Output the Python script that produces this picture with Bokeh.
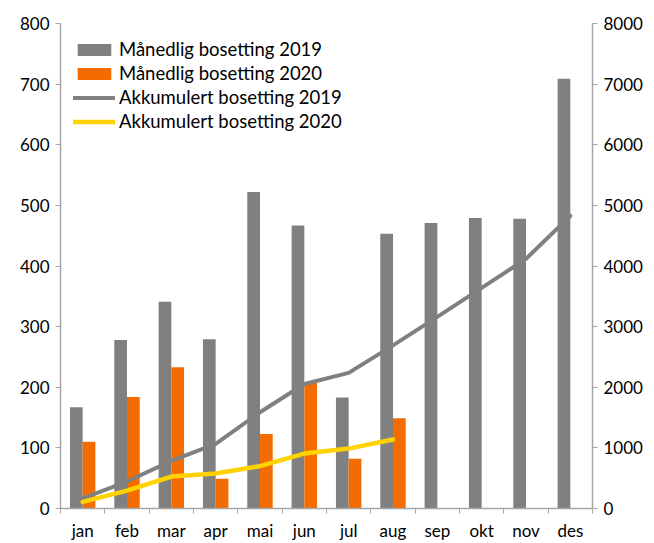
import numpy as np
from bokeh.plotting import figure
from bokeh.models import (Range1d, LinearAxis, FixedTicker, Legend, LegendItem,
                          ColumnDataSource)
from bokeh.embed import file_html
from bokeh.resources import INLINE

months = ["jan", "feb", "mar", "apr", "mai", "jun", "jul", "aug", "sep", "okt", "nov", "des"]
bosatt_2019 = [167, 278, 341, 279, 522, 467, 183, 453, 471, 479, 478, 709]
bosatt_2020 = [110, 184, 233, 49, 123, 207, 82, 149]
akk_2019 = [167, 445, 786, 1065, 1587, 2054, 2237, 2690, 3161, 3640, 4118, 4827]
akk_2020 = [110, 294, 527, 576, 699, 906, 988, 1137]
left_ticks = [0, 100, 200, 300, 400, 500, 600, 700, 800]
right_ticks = [0, 1000, 2000, 3000, 4000, 5000, 6000, 7000, 8000]

FONT = "Lato"
GREY = "#808080"
ORANGE = "#F46C00"
YELLOW = "#FFD200"
AXIS = "#A6A6A6"

n = len(months)
centers = np.arange(n) + 0.5
bw = 0.287

p = figure(width=654, height=543, output_backend="svg", toolbar_location=None,
           x_range=Range1d(0, n), y_range=Range1d(0, 800),
           min_border_left=60, min_border_right=62, min_border_top=23, min_border_bottom=35)
p.outline_line_color = None
p.xgrid.visible = False
p.ygrid.visible = False
p.extra_y_ranges = {"right": Range1d(0, 8000)}

s19 = ColumnDataSource(dict(x=centers - bw / 2, top=bosatt_2019))
s20 = ColumnDataSource(dict(x=centers[:len(bosatt_2020)] + bw / 2, top=bosatt_2020))
b19 = p.vbar(x="x", top="top", width=bw, source=s19, fill_color=GREY, line_color=None)
b20 = p.vbar(x="x", top="top", width=bw, source=s20, fill_color=ORANGE, line_color=None)

l19 = p.line(centers, akk_2019, y_range_name="right", line_color=GREY, line_width=4,
             line_cap="round", line_join="round")
l20 = p.line(centers[:len(akk_2020)], akk_2020, y_range_name="right", line_color=YELLOW,
             line_width=4.5, line_cap="round", line_join="round")

# x axis: labels at centers, tick marks at boundaries (minor ticks)
xa = p.xaxis[0]
xa.ticker = FixedTicker(ticks=list(centers), minor_ticks=list(range(n + 1)))
xa.major_label_overrides = {float(c): m for c, m in zip(centers, months)}
xa.major_tick_out = 0
xa.major_tick_in = 0
xa.minor_tick_out = 5
xa.minor_tick_in = 0
xa.minor_tick_line_color = AXIS
xa.axis_line_color = AXIS
xa.axis_line_width = 1.5
xa.major_label_standoff = 6
xa.major_label_text_font = FONT
xa.major_label_text_font_size = "17px"
xa.major_label_text_color = "black"

ya = p.yaxis[0]
ya.ticker = FixedTicker(ticks=left_ticks)
ya.major_tick_out = 5
ya.major_tick_in = 0
ya.minor_tick_out = 0
ya.minor_tick_in = 0
ya.axis_line_color = AXIS
ya.axis_line_width = 1.5
ya.major_tick_line_color = AXIS
ya.major_label_standoff = 6
ya.major_label_text_font = FONT
ya.major_label_text_font_size = "17px"
ya.major_label_text_color = "black"

ra = LinearAxis(y_range_name="right", ticker=FixedTicker(ticks=right_ticks))
ra.major_tick_out = 5
ra.major_tick_in = 0
ra.minor_tick_out = 0
ra.minor_tick_in = 0
ra.axis_line_color = AXIS
ra.axis_line_width = 1.5
ra.major_tick_line_color = AXIS
ra.major_label_standoff = 6
ra.major_label_text_font = FONT
ra.major_label_text_font_size = "17px"
ra.major_label_text_color = "black"
p.add_layout(ra, "right")

legend = Legend(items=[
    LegendItem(label="Månedlig bosetting 2019", renderers=[b19]),
    LegendItem(label="Månedlig bosetting 2020", renderers=[b20]),
    LegendItem(label="Akkumulert bosetting 2019", renderers=[l19]),
    LegendItem(label="Akkumulert bosetting 2020", renderers=[l20]),
], location=(13, 376))
legend.margin = 0
legend.padding = 0
legend.spacing = 2
legend.glyph_width = 42
legend.glyph_height = 15
legend.label_height = 20
legend.label_standoff = 4
legend.label_text_font = FONT
legend.label_text_font_size = "18.5px"
legend.label_text_color = "black"
legend.border_line_color = None
legend.background_fill_alpha = 0
p.add_layout(legend)

open("out.html", "w").write(file_html(p, INLINE))
